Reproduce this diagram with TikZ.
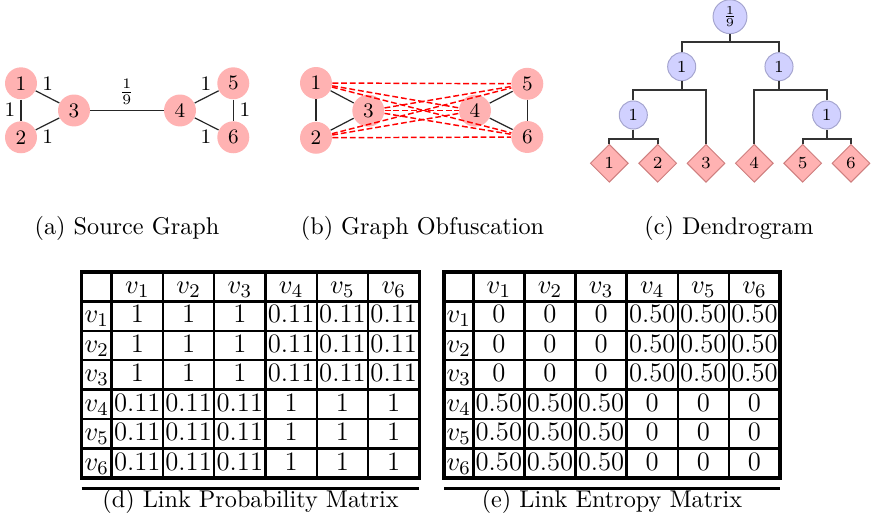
\documentclass[tikz,border=0pt]{standalone}
\usetikzlibrary{shapes.geometric}
\begin{document}
\begin{tikzpicture}[x=0.413pt,y=-0.413pt,
  gnode/.style={circle,fill=red!30,inner sep=0pt,minimum size=13.2pt,font=\fontsize{8.5}{10}\selectfont},
  gedge/.style={draw=black!85,line width=0.5pt},
  obf/.style={draw=red,line width=0.6pt,dash pattern=on 2.4pt off 1.2pt},
  elabel/.style={inner sep=0pt,font=\fontsize{8.5}{10}\selectfont},
  cnode/.style={circle,fill=blue!18,draw=blue!30!gray!55,line width=0.4pt,inner sep=0pt,font=\fontsize{7}{8}\selectfont},
  leaf/.style={diamond,aspect=1,fill=red!30,draw=red!45!gray!70,line width=0.4pt,inner sep=0pt,minimum size=15.7pt,font=\fontsize{7}{8}\selectfont},
  dline/.style={draw=black!80,line width=0.7pt},
  caption/.style={font=\fontsize{10}{12}\selectfont,inner sep=0pt},
  cell/.style={font=\fontsize{11}{13}\selectfont,inner sep=0pt,text height=1.55ex,text depth=0.25ex},
  tline/.style={line width=1pt},
  touter/.style={line width=1.3pt},
  ]
\useasboundingbox (0,0) rectangle (872,520);

% ---------------- (a) source graph ----------------
\node[gnode] (a1) at (21,83.3) {1};
\node[gnode] (a2) at (21,137.3) {2};
\node[gnode] (a3) at (74,110.5) {3};
\node[gnode] (a4) at (180,110.5) {4};
\node[gnode] (a5) at (233.3,83.3) {5};
\node[gnode] (a6) at (233.3,137.3) {6};
\draw[gedge] (a1) -- (a2);
\draw[gedge] (a1) -- (a3);
\draw[gedge] (a2) -- (a3);
\draw[gedge] (a3) -- (a4);
\draw[gedge] (a4) -- (a5);
\draw[gedge] (a4) -- (a6);
\draw[gedge] (a5) -- (a6);
\node[elabel] (w13) at (47.7,83.3) {1};
\node[elabel] (w12) at (10,110) {1};
\node[elabel] (w23) at (47.7,136.5) {1};
\node[elabel] (w34) at (126.7,92) {$\frac{1}{9}$};
\node[elabel] (w45) at (206,83.3) {1};
\node[elabel] (w56) at (245,110) {1};
\node[elabel] (w46) at (206,136.7) {1};
\node[caption] (capa) at (127,228) {(a) Source Graph};

% ---------------- (b) obfuscated graph ----------------
\node[gnode] (b1) at (316,83.0) {1};
\node[gnode] (b2) at (316,137.8) {2};
\node[gnode] (b3) at (368.3,110.7) {3};
\node[gnode] (b4) at (475,110.7) {4};
\node[gnode] (b5) at (527.3,83.8) {5};
\node[gnode] (b6) at (527.3,137.0) {6};
\draw[gedge] (b1) -- (b2);
\draw[gedge] (b1) -- (b3);
\draw[gedge] (b2) -- (b3);
\draw[gedge] (b4) -- (b5);
\draw[gedge] (b4) -- (b6);
\draw[gedge] (b5) -- (b6);
% every cross pair gets a dashed red link
\draw[obf] (b1) -- (b4);
\draw[obf] (b1) -- (b5);
\draw[obf] (b1) -- (b6);
\draw[obf] (b2) -- (b4);
\draw[obf] (b2) -- (b5);
\draw[obf] (b2) -- (b6);
\draw[obf] (b3) -- (b4);
\draw[obf] (b3) -- (b5);
\draw[obf] (b3) -- (b6);
\node[caption] (capb) at (422.5,228) {(b) Graph Obfuscation};

% ---------------- (c) dendrogram ----------------
\node[cnode,minimum size=14pt] (root) at (730,16.7) {$\frac{1}{9}$};
\node[cnode,minimum size=11.6pt] (ca) at (681.7,66.7) {1};
\node[cnode,minimum size=11.6pt] (cb) at (779,66.7) {1};
\node[cnode,minimum size=11.6pt] (cc) at (633.3,115) {1};
\node[cnode,minimum size=11.6pt] (cd) at (826.7,115) {1};
\node[leaf] (d1) at (609.3,163.3) {1};
\node[leaf] (d2) at (657.7,163.3) {2};
\node[leaf] (d3) at (706,163.3) {3};
\node[leaf] (d4) at (754.3,163.3) {4};
\node[leaf] (d5) at (802.7,163.3) {5};
\node[leaf] (d6) at (851,163.3) {6};
\coordinate (j0) at (730,41.7);
\coordinate (j1) at (681.7,90);
\coordinate (j2) at (779,90);
\coordinate (j3) at (633.3,139.3);
\coordinate (j4) at (826.7,139.3);
\draw[dline] (root) -- (j0);
\draw[dline] (ca) |- (j0) -| (cb);
\draw[dline] (ca) -- (j1);
\draw[dline] (cc) |- (j1) -| (d3);
\draw[dline] (cb) -- (j2);
\draw[dline] (d4) |- (j2) -| (cd);
\draw[dline] (cc) -- (j3);
\draw[dline] (d1) |- (j3) -| (d2);
\draw[dline] (cd) -- (j4);
\draw[dline] (d5) |- (j4) -| (d6);
\node[caption] (capc) at (729,228) {(c) Dendrogram};

% ---------------- (d) link probability matrix ----------------
\foreach \x in {111.7,163,214.2,265.5,316.8,368}
  \draw[tline] (\x,272) -- (\x,478);
\foreach \y in {301.4,330.9,360.3,389.7,419.1,448.6}
  \draw[tline] (81.7,\y) -- (419.3,\y);
\draw[touter] (81.7,272) rectangle (419.3,478);
\draw[touter] (81.7,488.5) -- (419.3,488.5);
\foreach \j in {1,...,6}{
  \node[cell] (dh\j) at ({111.7+(\j-0.5)*51.27},286.7) {$v_\j$};
  \node[cell] (dr\j) at (96.7,{272+(\j+0.5)*29.43}) {$v_\j$};
}
\foreach \i in {1,...,6}
  \foreach \j in {1,...,6}{
    \pgfmathtruncatemacro\same{((\i<4)==(\j<4))}
    \ifnum\same=1 \def\val{1}\else\def\val{0.11}\fi
    \node[cell] (d\i\j) at ({111.7+(\j-0.5)*51.27},{272+(\i+0.5)*29.43}) {\val};
  }
\node[caption] (capd) at (250.5,501) {(d) Link Probability Matrix};

% ---------------- (e) link entropy matrix ----------------
\foreach \x in {473.3,524.4,575.5,626.7,677.8,728.9}
  \draw[tline] (\x,272) -- (\x,478);
\foreach \y in {301.4,330.9,360.3,389.7,419.1,448.6}
  \draw[tline] (444,\y) -- (780,\y);
\draw[touter] (444,272) rectangle (780,478);
\draw[touter] (444,488.5) -- (780,488.5);
\foreach \j in {1,...,6}{
  \node[cell] (eh\j) at ({473.3+(\j-0.5)*51.12},286.7) {$v_\j$};
  \node[cell] (er\j) at (458.7,{272+(\j+0.5)*29.43}) {$v_\j$};
}
\foreach \i in {1,...,6}
  \foreach \j in {1,...,6}{
    \pgfmathtruncatemacro\same{((\i<4)==(\j<4))}
    \ifnum\same=1 \def\val{0}\else\def\val{0.50}\fi
    \node[cell] (e\i\j) at ({473.3+(\j-0.5)*51.12},{272+(\i+0.5)*29.43}) {\val};
  }
\node[caption] (cape) at (612,501) {(e) Link Entropy Matrix};
\end{tikzpicture}
\end{document}
